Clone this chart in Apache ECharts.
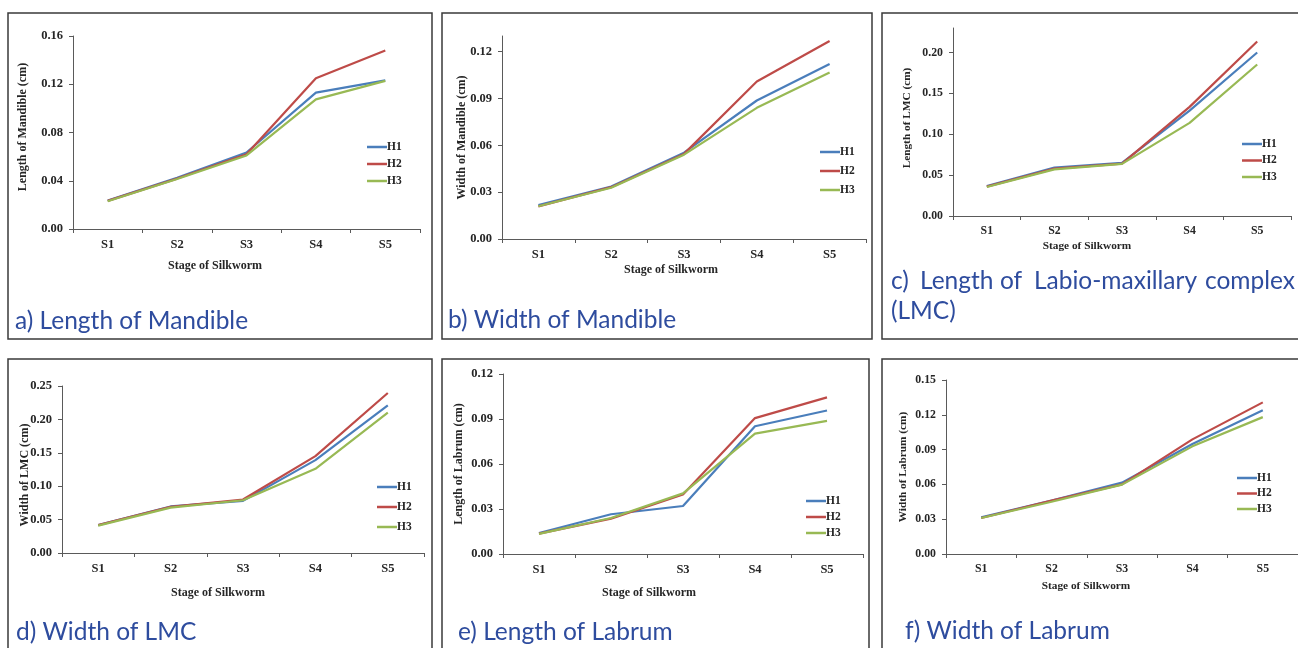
<!DOCTYPE html>
<html><head><meta charset="utf-8">
<script src="https://cdn.jsdelivr.net/npm/echarts@6/dist/echarts.min.js"></script>
<style>html,body{margin:0;padding:0;background:#fff}#c{width:1298px;height:648px}</style>
</head><body><div id="c"></div>
<script>
// ---------- DATA ----------
const stages = ['S1', 'S2', 'S3', 'S4', 'S5'];
const hybrids = ['H1', 'H2', 'H3'];

// a) Length of Mandible
const mandLenH1 = [0.0235, 0.0425, 0.0634, 0.113, 0.1232];
const mandLenH2 = [0.0233, 0.0418, 0.0620, 0.125, 0.148];
const mandLenH3 = [0.0230, 0.0415, 0.0610, 0.1075, 0.1228];
const mandLenTicks = [0, 0.04, 0.08, 0.12, 0.16];

// b) Width of Mandible
const mandWidH1 = [0.0217, 0.0336, 0.0553, 0.0887, 0.1121];
const mandWidH2 = [0.0209, 0.0332, 0.0545, 0.1009, 0.1268];
const mandWidH3 = [0.0210, 0.0328, 0.0540, 0.0840, 0.1066];
const mandWidTicks = [0, 0.03, 0.06, 0.09, 0.12];

// c) Length of LMC
const lmcLenH1 = [0.0367, 0.0592, 0.0649, 0.129, 0.200];
const lmcLenH2 = [0.0360, 0.0580, 0.0640, 0.1335, 0.2135];
const lmcLenH3 = [0.0355, 0.0570, 0.0637, 0.114, 0.1853];
const lmcLenTicks = [0, 0.05, 0.10, 0.15, 0.20];

// d) Width of LMC
const lmcWidH1 = [0.0418, 0.0697, 0.078, 0.139, 0.221];
const lmcWidH2 = [0.0420, 0.0690, 0.080, 0.145, 0.2395];
const lmcWidH3 = [0.0410, 0.0680, 0.079, 0.126, 0.210];
const lmcWidTicks = [0, 0.05, 0.10, 0.15, 0.20, 0.25];

// e) Length of Labrum
const labLenH1 = [0.0140, 0.0265, 0.0320, 0.0852, 0.0957];
const labLenH2 = [0.0136, 0.0236, 0.0397, 0.0906, 0.1044];
const labLenH3 = [0.0134, 0.0240, 0.0404, 0.0803, 0.0888];
const labLenTicks = [0, 0.03, 0.06, 0.09, 0.12];

// f) Width of Labrum
const labWidH1 = [0.0316, 0.046, 0.0615, 0.0948, 0.124];
const labWidH2 = [0.0310, 0.046, 0.0600, 0.0988, 0.1307];
const labWidH3 = [0.0310, 0.045, 0.0598, 0.0928, 0.118];
const labWidTicks = [0, 0.03, 0.06, 0.09, 0.12, 0.15];

const yTitles = ['Length of Mandible (cm)', 'Width of Mandible (cm)', 'Length of LMC (cm)',
                 'Width of LMC (cm)', 'Length of Labrum (cm)', 'Width of Labrum (cm)'];
const xTitle = 'Stage of Silkworm';

// ---------- LAYOUT ----------
const colors = ['#4A7EBB', '#BE4B48', '#98B954'];
const panels = [
  {vals:[mandLenH1,mandLenH2,mandLenH3], ticks:mandLenTicks, max:0.16, step:0.04,
   grid:{left:73, top:36, width:347, height:193}, fs:12.5,
   yGap:44, yPad:[0,0,0,11], xGap:31, xPad:[0,63,0,0],
   leg:{left:362, top:136, gap:5}},
  {vals:[mandWidH1,mandWidH2,mandWidH3], ticks:mandWidTicks, max:0.13, step:0.03,
   grid:{left:502, top:36, width:364, height:203}, fs:12.5,
   yGap:34, yPad:[0,0,0,0], xGap:25, xPad:[0,26,0,0],
   leg:{left:815, top:141, gap:7}},
  {vals:[lmcLenH1,lmcLenH2,lmcLenH3], ticks:lmcLenTicks, max:0.23, step:0.05,
   grid:{left:953, top:28, width:338, height:188}, fs:11.8,
   yGap:40.5, yPad:[0,0,0,8], xGap:25, xPad:[0,70,0,0],
   leg:{left:1237, top:133, gap:4.5}},
  {vals:[lmcWidH1,lmcWidH2,lmcWidH3], ticks:lmcWidTicks, max:0.25, step:0.05,
   grid:{left:62, top:386, width:362, height:167}, fs:12.5,
   yGap:31, yPad:[0,11,0,0], xGap:34, xPad:[0,50,0,0],
   leg:{left:372, top:476, gap:8}},
  {vals:[labLenH1,labLenH2,labLenH3], ticks:labLenTicks, max:0.12, step:0.03,
   grid:{left:503, top:374, width:360, height:180}, fs:12.5,
   yGap:38, yPad:[0,0,0,0], xGap:33, xPad:[0,68,0,0],
   leg:{left:801, top:490, gap:4}},
  {vals:[labWidH1,labWidH2,labWidH3], ticks:labWidTicks, max:0.15, step:0.03,
   grid:{left:946, top:380, width:352, height:174}, fs:11.8,
   yGap:37.5, yPad:[0,0,0,0], xGap:27, xPad:[0,72,0,0],
   leg:{left:1232, top:467, gap:3.5}}
];

const serif = '"Liberation Serif", "Times New Roman", serif';
const txtCol = '#262626';
const axisCol = '#5a5a5a';

const grid = [], xAxis = [], yAxis = [], series = [], legend = [];
panels.forEach((p, i) => {
  grid.push(Object.assign({containLabel:false}, p.grid));
  xAxis.push({
    type:'category', gridIndex:i, data:stages, boundaryGap:true,
    axisLine:{lineStyle:{color:axisCol, width:1}},
    axisTick:{show:true, length:4, lineStyle:{color:axisCol}},
    axisLabel:{color:txtCol, fontFamily:serif, fontWeight:'bold', fontSize:p.fs, margin:9},
    splitLine:{show:false},
    name:xTitle, nameLocation:'middle', nameGap:p.xGap, nameMoveOverlap:false,
    nameTextStyle:{color:txtCol, fontFamily:serif, fontWeight:'bold', fontSize:p.fs-0.5, padding:p.xPad}
  });
  yAxis.push({
    type:'value', gridIndex:i, min:0, max:p.max, interval:p.step,
    axisLine:{show:true, lineStyle:{color:axisCol, width:1}},
    axisTick:{show:true, length:4, lineStyle:{color:axisCol}, customValues:p.ticks},
    axisLabel:{color:txtCol, fontFamily:serif, fontWeight:'bold', fontSize:p.fs, margin:10,
      customValues:p.ticks, formatter:v => v.toFixed(2)},
    splitLine:{show:false},
    name:yTitles[i], nameLocation:'middle', nameGap:p.yGap, nameMoveOverlap:false,
    nameTextStyle:{color:txtCol, fontFamily:serif, fontWeight:'bold', fontSize:p.fs-0.5, padding:p.yPad}
  });
  hybrids.forEach((h, k) => {
    series.push({
      type:'line', name:h, xAxisIndex:i, yAxisIndex:i, data:p.vals[k],
      showSymbol:false, symbol:'none', smooth:false,
      lineStyle:{color:colors[k], width:2.2}, itemStyle:{color:colors[k]},
      emphasis:{disabled:true}, animation:false
    });
  });
  legend.push({
    data:hybrids, orient:'vertical', left:p.leg.left, top:p.leg.top, itemGap:p.leg.gap,
    icon:'rect', itemWidth:20, itemHeight:2.5, selectedMode:false,
    textStyle:{color:txtCol, fontFamily:serif, fontWeight:'bold', fontSize:11.5, lineHeight:12, padding:[0,0,0,-5]}
  });
});

// captions & borders
const capFont = '"Lato", "Open Sans", sans-serif';
const capCol = '#2E4C9E';
const capSize = 24.5;
const captionTexts = [
  {t:'a) Length of Mandible', x:15, y:321},
  {t:'b) Width of Mandible', x:448, y:320},
  {t:'c)', x:891, y:281}, {t:'Length', x:920, y:281}, {t:'of', x:1000, y:281},
  {t:'Labio-maxillary', x:1034, y:281}, {t:'complex', x:1205, y:281},
  {t:'(LMC)', x:891, y:311},
  {t:'d) Width of LMC', x:16, y:632},
  {t:'e) Length of Labrum', x:458, y:632},
  {t:'f) Width of Labrum', x:905, y:631}
];
const borders = [
  [8, 13, 424, 326], [442, 13, 430, 326], [882, 13, 420, 326],
  [8, 359, 424, 300], [442, 359, 427, 300], [882, 359, 420, 300]
];
const graphic = [];
borders.forEach(b => graphic.push({type:'rect', z:-1, silent:true,
  shape:{x:b[0], y:b[1], width:b[2], height:b[3]},
  style:{fill:'none', stroke:'#3a3a3a', lineWidth:1.5}}));
captionTexts.forEach(c => graphic.push({type:'text', x:c.x, y:c.y, silent:true,
  style:{text:c.t, font:`${capSize}px ${capFont}`, fill:capCol, verticalAlign:'middle', align:'left'}}));

const chart = echarts.init(document.getElementById('c'), null, {renderer:'canvas'});
chart.setOption({
  animation:false, backgroundColor:'#ffffff',
  grid, xAxis, yAxis, series, legend, graphic, tooltip:{show:false}
});
</script></body></html>
